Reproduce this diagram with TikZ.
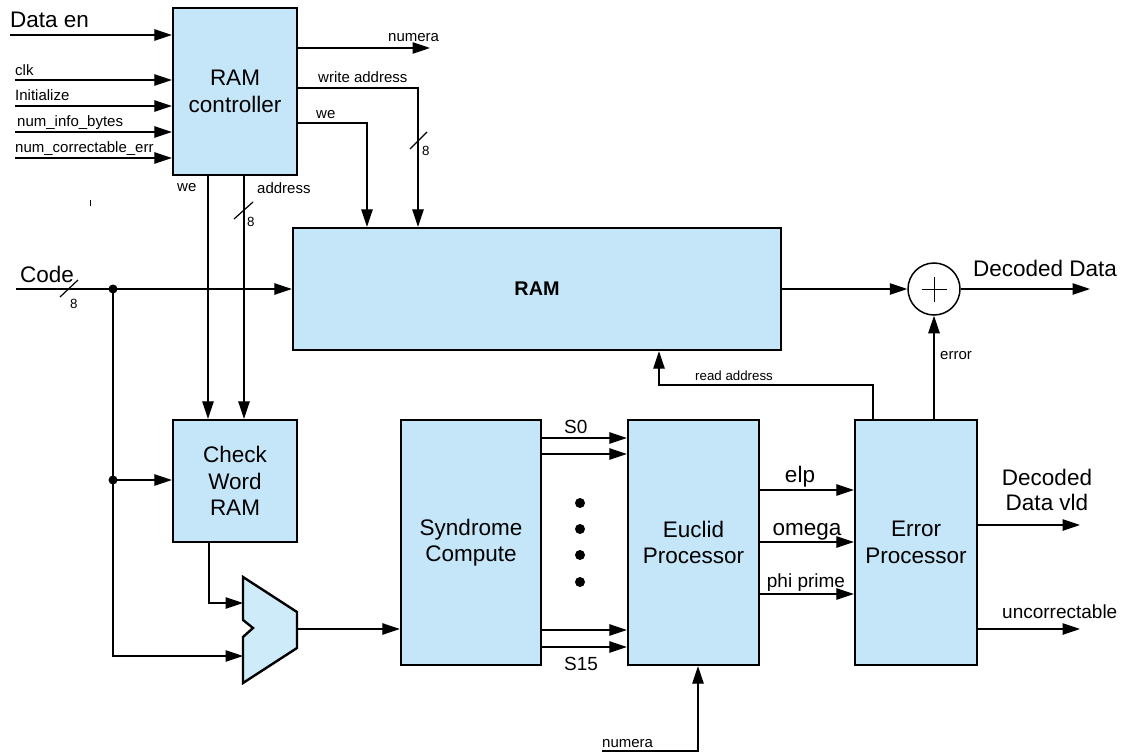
\documentclass[tikz,border=0pt]{standalone}
\usepackage{fontspec}
\setmainfont{Liberation Sans}
\usetikzlibrary{arrows.meta}
\definecolor{boxblue}{RGB}{196,230,248}
\definecolor{muxblue}{RGB}{206,235,250}
\newcommand\fbig{\fontsize{22.5bp}{26.5bp}\selectfont}
\newcommand\fmed{\fontsize{19bp}{22bp}\selectfont}
\newcommand\fsmall{\fontsize{15bp}{18bp}\selectfont}
\newcommand\ftiny{\fontsize{13.3bp}{16bp}\selectfont}
\begin{document}
\begin{tikzpicture}[x=1bp,y=-1bp,
  box/.style={draw, line width=2.4bp, fill=boxblue, inner sep=0pt, align=center, font=\fbig},
  arr/.style={line width=1.2bp, -{Triangle[length=17.5bp,width=11.5bp]}},
  ln/.style={line width=1.2bp},
  lbl/.style={inner sep=0pt, anchor=base west},
  clbl/.style={inner sep=0pt, anchor=base},
  dot/.style={fill=black}]
\useasboundingbox (0,0) rectangle (1122,753);
% blocks
\node[box, minimum width=124bp, minimum height=167bp] (rc) at (235,91.5) {RAM\\controller};
\node[box, minimum width=488bp, minimum height=122bp, font=\fontsize{19.8bp}{22bp}\selectfont\bfseries] (ram) at (537,289) {RAM};
\node[box, minimum width=124bp, minimum height=122bp] (cw) at (235,481) {Check\\Word\\RAM};
\node[box, minimum width=140bp, minimum height=245bp] (syn) at (471,542.5) {Syndrome\\Compute};
\node[box, minimum width=131bp, minimum height=245bp] (euc) at (693.5,542.5) {Euclid\\Processor};
\node[box, minimum width=122bp, minimum height=245bp] (ep) at (916,542.5) {Error\\Processor};
\node[draw, circle, line width=1.5bp, minimum size=52bp, inner sep=0pt] (xor) at (934,289) {};
\draw[line width=1bp] ([xshift=-12.5bp]xor.center) -- ([xshift=12.5bp]xor.center);
\draw[line width=1bp] ([yshift=-12.5bp]xor.center) -- ([yshift=12.5bp]xor.center);
% mux
\draw[line width=2.4bp, fill=muxblue] (243,577) -- (297,612) -- (297,648) -- (243,683) -- (243,637) -- (253,628) -- (243,620) -- cycle;
\coordinate (mi1) at (243,603);
\coordinate (mi2) at (243,656);
\coordinate (mo) at (297,629);
% RAM controller inputs
\coordinate (deIn) at (10,35);
\coordinate (clkIn) at (15,80);
\coordinate (iniIn) at (15,106);
\coordinate (nibIn) at (15,132);
\coordinate (nceIn) at (15,158);
\draw[arr] (deIn) -- (deIn -| rc.west);
\draw[arr] (clkIn) -- (clkIn -| rc.west);
\draw[arr] (iniIn) -- (iniIn -| rc.west);
\draw[arr] (nibIn) -- (nibIn -| rc.west);
\draw[arr] (nceIn) -- (nceIn -| rc.west);
\node[lbl, font=\fbig] (tDe) at (10,28) {Data en};
\node[lbl, font=\fsmall] (tClk) at (15,76) {clk};
\node[lbl, font=\fsmall] (tIni) at (15,101) {Initialize};
\node[lbl, font=\fsmall] (tNib) at (17,126.5) {num\_info\_bytes};
\node[lbl, font=\fsmall] (tNce) at (15,152.5) {num\_correctable\_err};
% RAM controller outputs
\coordinate (numOut) at (430,48);
\draw[arr] (numOut -| rc.east) -- (numOut);
\node[lbl, font=\fsmall] (tNum) at (388,42) {numera};
\coordinate (wa) at (418,88);
\draw[arr] (wa -| rc.east) -- (wa) -- (wa |- ram.north);
\node[lbl, font=\fsmall] (tWa) at (318,83) {write address};
\draw[ln] (410,149) -- (427,132);
\node[lbl, font=\ftiny] (tWa8) at (422,155) {8};
\coordinate (weR) at (367,123);
\draw[arr] (weR -| rc.east) -- (weR) -- (weR |- ram.north);
\node[lbl, font=\fsmall] (tWe) at (316,118) {we};
\coordinate (weD) at (208,300);
\coordinate (adD) at (244,300);
\draw[arr] (weD |- rc.south) -- (weD |- cw.north);
\draw[arr] (adD |- rc.south) -- (adD |- cw.north);
\node[lbl, font=\fsmall] (tWe2) at (177,191) {we};
\node[lbl, font=\fsmall] (tAd) at (257,193) {address};
\draw[ln] (234,219) -- (253,202);
\node[lbl, font=\ftiny] (tAd8) at (247,226) {8};
\draw[ln] (90.5,200) -- (90.5,206);
% Code input
\coordinate (codeIn) at (16,289);
\coordinate (j1) at (113,289);
\coordinate (j2) at (113,480);
\draw[arr] (codeIn) -- (codeIn -| ram.west);
\node[lbl, font=\fbig] (tCode) at (20,282) {Code};
\draw[ln] (60,297) -- (78,280);
\node[lbl, font=\ftiny] (tCode8) at (70,308) {8};
\draw[arr] (j1) |- (mi2);
\draw[arr] (j2) -- (j2 -| cw.west);
\fill[dot] (j1) circle (4.5bp);
\fill[dot] (j2) circle (4.5bp);
% check word RAM to mux
\draw[arr] ([xshift=-26bp]cw.south) |- (mi1);
\draw[arr] (mo) -- (mo -| syn.west);
% syndromes
\draw[arr] (syn.east |- 0,438) -- (euc.west |- 0,438);
\draw[arr] (syn.east |- 0,454) -- (euc.west |- 0,454);
\draw[arr] (syn.east |- 0,630) -- (euc.west |- 0,630);
\draw[arr] (syn.east |- 0,647) -- (euc.west |- 0,647);
\node[lbl, font=\fmed] (tS0) at (564,433) {S0};
\node[lbl, font=\fmed] (tS15) at (564,670) {S15};
\fill[dot] (580,503) circle (5bp);
\fill[dot] (580,529) circle (5bp);
\fill[dot] (580,555) circle (5bp);
\fill[dot] (580,582) circle (5bp);
% Euclid to error processor
\draw[arr] (euc.east |- 0,490) -- (ep.west |- 0,490);
\draw[arr] (euc.east |- 0,542) -- (ep.west |- 0,542);
\draw[arr] (euc.east |- 0,594) -- (ep.west |- 0,594);
\node[clbl, font=\fbig] (tElp) at (800,482) {elp};
\node[clbl, font=\fbig] (tOm) at (807,535) {omega};
\node[clbl, font=\fmed] (tPhi) at (806,587) {phi prime};
% numera into Euclid
\coordinate (nmIn) at (602,751);
\draw[arr] (nmIn) -| ([xshift=4.5bp]euc.south);
\node[lbl, font=\fsmall] (tNm2) at (602,747) {numera};
% error processor outputs
\draw[arr] ([xshift=-43bp]ep.north) |- ([xshift=122bp]ram.south |- 0,385) -- ([xshift=122bp]ram.south);
\node[lbl, font=\ftiny] (tRa) at (695,380) {read address};
\draw[arr] (xor.south |- ep.north) -- (xor.south);
\node[lbl, font=\fsmall] (tErr) at (940,359) {error};
\draw[arr] (ram.east) -- (xor.west);
\coordinate (ddOut) at (1090,289);
\draw[arr] (xor.east) -- (ddOut);
\node[lbl, font=\fbig] (tDd) at (973,276) {Decoded Data};
\coordinate (vldOut) at (1080,525);
\draw[arr] (vldOut -| ep.east) -- (vldOut);
\node[clbl, font=\fbig] (tVld1) at (1047,485) {Decoded};
\node[clbl, font=\fbig] (tVld2) at (1047,510) {Data vld};
\coordinate (ucOut) at (1080,629);
\draw[arr] (ucOut -| ep.east) -- (ucOut);
\node[lbl, font=\fmed] (tUc) at (1002,618) {uncorrectable};
\end{tikzpicture}
\end{document}
